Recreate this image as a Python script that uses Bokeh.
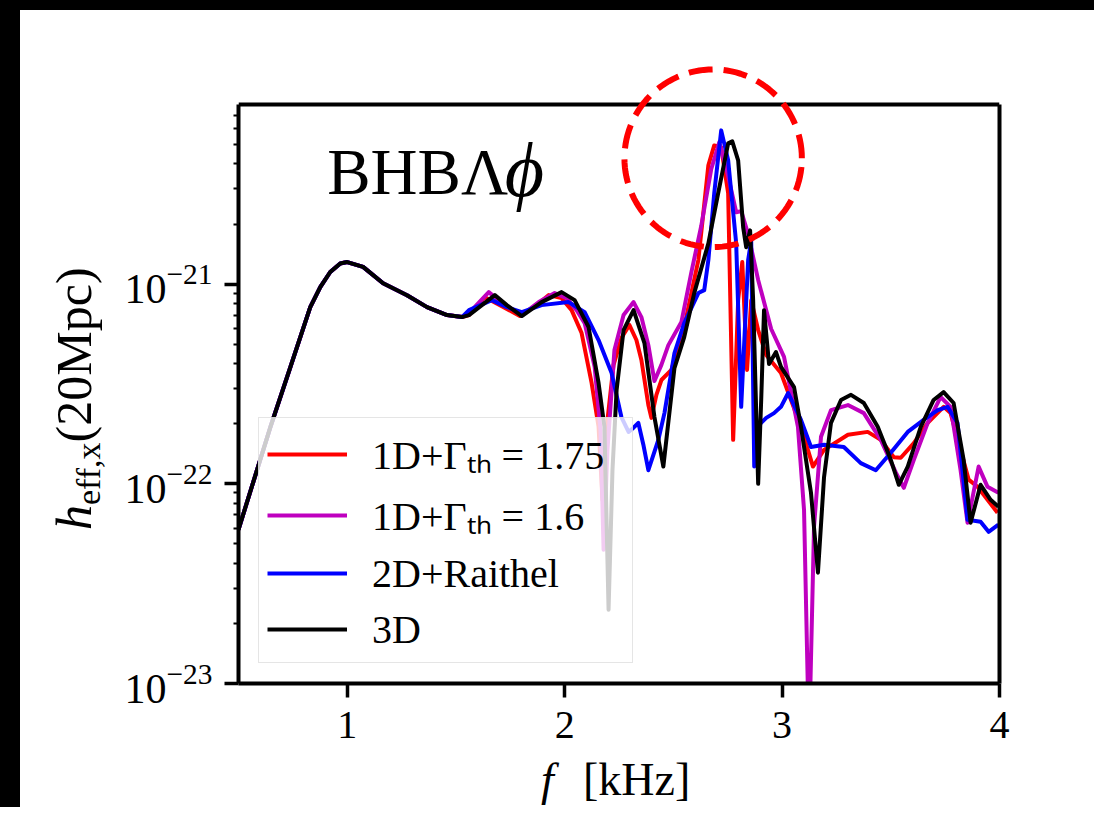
import math
from bokeh.plotting import figure
from bokeh.models import (FixedTicker, LogTickFormatter, Legend, LegendItem, Label,
                          PolyAnnotation, Div, Span, LogAxis)
from bokeh.layouts import row, column
from bokeh.embed import file_html
from bokeh.resources import INLINE

# ---------------- data ----------------
f_common = [0.5, 0.647, 0.739, 0.83, 0.876, 0.922, 0.968, 1.0, 1.073, 1.165, 1.275, 1.367, 1.459, 1.528]
h_common = [5.9e-23, 1.93e-22, 3.85e-22, 7.67e-22, 9.66e-22, 1.15e-21, 1.27e-21, 1.29e-21,
            1.22e-21, 1.01e-21, 8.8e-22, 7.67e-22, 7.0e-22, 6.84e-22]

f_red = f_common + [1.560, 1.633, 1.711, 1.794, 1.872, 1.927, 1.986, 2.032, 2.078, 2.124,
                    2.156, 2.174, 2.197, 2.225, 2.261, 2.298, 2.330, 2.353, 2.385, 2.399,
                    2.422, 2.445, 2.491, 2.550, 2.615, 2.661, 2.688, 2.720, 2.752, 2.775,
                    2.798, 2.817, 2.839, 2.858, 2.890, 2.927, 2.995, 3.087, 3.142, 3.193,
                    3.303, 3.394, 3.454, 3.514, 3.546, 3.606, 3.670, 3.743, 3.775, 3.821,
                    3.858, 3.899, 3.945, 3.991]
h_red = h_common + [7.0e-22, 8.6e-22, 7.76e-22, 6.92e-22, 7.85e-22, 8.81e-22, 8.51e-22, 7.41e-22, 5.69e-22, 3.2e-22,
                    1.93e-22, 8.3e-23, 2.09e-22, 3.94e-22, 5.37e-22, 6.24e-22, 5.25e-22, 4.17e-22, 2.48e-22, 2.14e-22,
                    2.79e-22, 3.31e-22, 3.72e-22, 6.1e-22, 1.32e-21, 3.94e-21, 4.95e-21, 4.84e-21, 2.85e-21, 1.66e-22,
                    8.3e-22, 1.29e-21, 3.72e-22, 8.3e-22, 5.89e-22, 4.42e-22, 3.59e-22, 1.93e-22, 1.22e-22, 1.48e-22,
                    1.76e-22, 1.82e-22, 1.66e-22, 1.36e-22, 1.35e-22, 1.6e-22, 2.02e-22, 2.43e-22, 2.26e-22, 1.48e-22,
                    1.05e-22, 9.66e-23, 8.32e-23, 7.16e-23]

f_mag = f_common + [1.560, 1.651, 1.711, 1.803, 1.881, 1.954, 2.009, 2.055, 2.092, 2.138,
                    2.165, 2.179, 2.197, 2.229, 2.271, 2.317, 2.353, 2.385, 2.413, 2.445,
                    2.477, 2.537, 2.583, 2.628, 2.674, 2.711, 2.752, 2.789, 2.812, 2.844,
                    2.890, 2.950, 3.009, 3.073, 3.101, 3.124, 3.147, 3.179, 3.225, 3.303,
                    3.376, 3.454, 3.523, 3.560, 3.606, 3.670, 3.729, 3.775, 3.821, 3.853,
                    3.904, 3.945, 3.995]
h_mag = h_common + [7.16e-22, 9.12e-22, 8.04e-22, 7.0e-22, 8.13e-22, 9.02e-22, 8.51e-22, 7.41e-22, 6.38e-22, 3.85e-22,
                    1.86e-22, 4.68e-23, 1.48e-22, 4.68e-22, 7.0e-22, 8.13e-22, 6.84e-22, 4.95e-22, 3.27e-22, 3.94e-22,
                    4.95e-22, 6.46e-22, 1.15e-21, 1.95e-21, 3.76e-21, 5.13e-21, 3.47e-21, 2.29e-21, 2.32e-21, 1.78e-21,
                    1.05e-21, 5.96e-22, 4.32e-22, 1.93e-22, 7.41e-23, 5e-24, 6.1e-23, 1.72e-22, 2.34e-22, 2.48e-22,
                    2.26e-22, 1.66e-22, 1.14e-22, 9.55e-23, 1.32e-22, 2.02e-22, 2.72e-22, 2.43e-22, 1.17e-22, 6.38e-23,
                    1.22e-22, 9.66e-23, 9.02e-23]

f_blue = f_common + [1.560, 1.665, 1.734, 1.803, 1.894, 2.018, 2.092, 2.156, 2.216, 2.261,
                     2.294, 2.317, 2.339, 2.362, 2.385, 2.431, 2.459, 2.505, 2.550, 2.615,
                     2.642, 2.661, 2.688, 2.720, 2.752, 2.789, 2.812, 2.844, 2.858, 2.872,
                     2.894, 2.927, 2.963, 2.995, 3.028, 3.087, 3.133, 3.193, 3.284, 3.362,
                     3.431, 3.500, 3.578, 3.651, 3.716, 3.761, 3.807, 3.853, 3.913, 3.950,
                     3.995]
h_blue = h_common + [7.41e-22, 8.32e-22, 7.67e-22, 7.24e-22, 7.85e-22, 8.13e-22, 7.24e-22, 5.25e-22, 3.59e-22, 2.16e-22,
                     1.82e-22, 1.91e-22, 2.02e-22, 1.57e-22, 1.17e-22, 1.66e-22, 2.26e-22, 4.52e-22, 6.38e-22, 9.02e-22,
                     9.33e-22, 1.32e-21, 2.85e-21, 5.89e-21, 4.17e-21, 1.6e-21, 2.43e-22, 1.32e-21, 1.66e-21, 1.22e-22,
                     1.97e-22, 2.14e-22, 2.26e-22, 2.43e-22, 2.85e-22, 2.09e-22, 1.53e-22, 1.57e-22, 1.53e-22, 1.27e-22,
                     1.17e-22, 1.43e-22, 1.82e-22, 2.09e-22, 2.34e-22, 2.43e-22, 2.02e-22, 6.61e-23, 6.46e-23, 5.75e-23,
                     6.24e-23]

f_black = f_common + [1.560, 1.679, 1.734, 1.803, 1.894, 1.986, 2.046, 2.110, 2.156, 2.183,
                      2.202, 2.220, 2.239, 2.271, 2.317, 2.367, 2.413, 2.454, 2.505, 2.550,
                      2.596, 2.661, 2.706, 2.752, 2.771, 2.798, 2.821, 2.835, 2.853, 2.867,
                      2.890, 2.904, 2.917, 2.940, 2.972, 2.995, 3.055, 3.087, 3.133, 3.165,
                      3.193, 3.225, 3.271, 3.317, 3.376, 3.440, 3.500, 3.537, 3.578, 3.638,
                      3.697, 3.743, 3.789, 3.835, 3.867, 3.913, 3.959, 3.995]
h_black = h_common + [7.0e-22, 8.81e-22, 7.85e-22, 6.92e-22, 8.13e-22, 9.12e-22, 8.32e-22, 6.1e-22, 3.2e-22, 1.93e-22,
                      2.34e-23, 1.17e-22, 2.95e-22, 5.89e-22, 7.41e-22, 5.07e-22, 2.16e-22, 1.22e-22, 3.8e-22, 5.43e-22,
                      9.02e-22, 1.6e-21, 2.85e-21, 5.07e-21, 5.19e-21, 4.17e-21, 1.93e-21, 1.53e-21, 1.86e-21, 8.32e-22,
                      1.0e-22, 2.63e-22, 7.41e-22, 3.98e-22, 4.57e-22, 3.85e-22, 3.05e-22, 1.93e-22, 9.02e-23, 3.59e-23,
                      1.08e-22, 2.02e-22, 2.63e-22, 2.79e-22, 2.54e-22, 1.93e-22, 1.32e-22, 9.89e-23, 1.22e-22, 1.93e-22,
                      2.63e-22, 2.88e-22, 2.54e-22, 1.32e-22, 6.38e-23, 9.89e-23, 8.32e-23, 7.67e-23]

series_labels = ["1D+Γₜₕ = 1.75", "1D+Γₜₕ = 1.6", "2D+Raithel", "3D"]
series_colors = ["#ff0000", "#bf00bf", "#0000ff", "#000000"]

x_ticks = [1, 2, 3, 4]
y_major_exponents = [-23, -22, -21]
x_lo, x_hi = 0.5, 4.0
y_lo, y_hi = 1e-23, 10 ** -20.1          # axes box
y_room = 10 ** -19.88                     # frame extends above the box so the highlight ring shows

# highlight ring (annotation around the main peak), in data units
hl_f, hl_h, hl_rx, hl_ry_dec = 2.683, 4.27e-21, 0.408, 0.445

SERIF = "Liberation Serif"
NOSCROLL = {"overflow": "hidden"}

# ---------------- figure ----------------
p = figure(width=986, height=745, x_range=(x_lo, x_hi), y_range=(y_lo, y_room),
           y_axis_type="log", output_backend="svg", toolbar_location=None,
           min_border_left=130, min_border_right=95, min_border_top=50, min_border_bottom=72)
p.background_fill_color = "white"
p.border_fill_color = "white"
p.xgrid.visible = False
p.ygrid.visible = False
p.outline_line_color = None

rends = []
for fx, hy, col in [(f_red, h_red, series_colors[0]), (f_mag, h_mag, series_colors[1]),
                    (f_blue, h_blue, series_colors[2]), (f_black, h_black, series_colors[3])]:
    rends.append(p.line(fx, hy, line_color=col, line_width=4, line_join="round"))

p.xaxis.ticker = FixedTicker(ticks=x_ticks)
minor = [m * 10.0 ** e for e in y_major_exponents for m in range(2, 10)]
p.yaxis.ticker = FixedTicker(ticks=[10.0 ** e for e in y_major_exponents],
                             minor_ticks=[v for v in minor if v <= y_hi])
p.yaxis.formatter = LogTickFormatter()
p.yaxis.bounds = (y_lo, y_hi)

for ax in (p.xaxis[0], p.yaxis[0]):
    ax.axis_line_width = 4
    ax.axis_line_color = "black"
    ax.major_tick_line_width = 3.5
    ax.major_tick_out = 14
    ax.major_tick_in = 0
    ax.major_label_text_font = SERIF
    ax.major_label_text_color = "black"
p.xaxis.major_label_text_font_size = "40px"
p.yaxis.major_label_text_font_size = "42px"
p.xaxis.minor_tick_line_color = None
p.xaxis.major_label_standoff = 14
p.yaxis.major_label_standoff = 12
p.yaxis.minor_tick_out = 5
p.yaxis.minor_tick_in = 0
p.yaxis.minor_tick_line_width = 2

# right and top edges of the axes box
right_axis = LogAxis(bounds=(y_lo, y_hi), ticker=FixedTicker(ticks=[]), axis_line_width=4,
                     axis_line_color="black", major_tick_line_color=None, minor_tick_line_color=None,
                     major_label_text_font_size="0px")
p.add_layout(right_axis, "right")
p.add_layout(Span(location=y_hi, dimension="width", line_color="black", line_width=4))

def fx_of_px(px):
    return 1 + (px - 345) / 218.0

def hy_of_py(py):
    return 10 ** (-21 - (py - 284) / 200.0)

# panel title
p.add_layout(Label(x=fx_of_px(325), y=hy_of_py(172), text="BHBΛ", text_font=SERIF, text_color="black",
                   text_font_size="65px", text_baseline="alphabetic"))
p.add_layout(Label(x=fx_of_px(503), y=hy_of_py(170), text="ϕ", text_font=SERIF, text_color="black",
                   text_font_size="76px", text_font_style="italic", text_baseline="alphabetic"))

# dashed highlight ring
n = 120
xs = [hl_f + hl_rx * math.cos(2 * math.pi * i / n) for i in range(n)]
ys = [hl_h * 10 ** (hl_ry_dec * math.sin(2 * math.pi * i / n)) for i in range(n)]
p.add_layout(PolyAnnotation(xs=xs, ys=ys, fill_color=None, fill_alpha=0, line_color="#ff0000",
                            line_alpha=1, line_width=6, line_dash="24 11"))

legend = Legend(items=[LegendItem(label=lab, renderers=[r]) for lab, r in zip(series_labels, rends)],
                location="bottom_left", margin=20, padding=8, spacing=6,
                glyph_width=80, glyph_height=50, label_height=50, label_width=252, label_standoff=25,
                label_text_font=SERIF, label_text_font_size="40px", label_text_color="black",
                background_fill_color="white", background_fill_alpha=0.8,
                border_line_color="#cccccc", border_line_width=1.5)
p.add_layout(legend)

# axis titles as HTML text (italic symbol + subscript)
ylab_html = ('<div style="position:relative;width:88px;height:790px;overflow:hidden;">'
             '<div style="position:absolute;left:25px;top:520px;transform:rotate(-90deg);'
             'transform-origin:left top;white-space:nowrap;font-family:\'Liberation Serif\';'
             'font-size:50px;line-height:58px;color:black;">'
             '<i>h</i><span style="font-size:34px;position:relative;top:9px;">eff,x</span>(20Mpc)</div></div>')
xlab_html = ('<div style="position:relative;width:960px;height:52px;overflow:hidden;'
             'font-family:\'Liberation Serif\';font-size:46px;line-height:46px;color:black;">'
             '<span style="position:absolute;left:433px;top:2px;font-style:italic;">f</span>'
             '<span style="position:absolute;left:475px;top:2px;">[kHz]</span></div>')

ylab = Div(text=ylab_html, width=88, height=797, margin=0, styles=NOSCROLL)
xlab = Div(text=xlab_html, width=986, height=52, margin=0, styles=NOSCROLL)
left_bar = Div(text="", width=20, height=807, margin=0, styles={"background-color": "black", "overflow": "hidden"})
top_bar = Div(text="", width=1074, height=10, margin=0, styles={"background-color": "black", "overflow": "hidden"})

layout = row(left_bar,
             column(top_bar,
                    row(ylab, column(p, xlab, spacing=0, styles=NOSCROLL), spacing=0, styles=NOSCROLL),
                    spacing=0, styles=NOSCROLL),
             spacing=0, styles=NOSCROLL)

html = file_html(layout, INLINE)
html = html.replace("<head>", "<head><style>html, body { overflow: hidden; background: white; margin: 0; }</style>", 1)
open("out.html", "w").write(html)
